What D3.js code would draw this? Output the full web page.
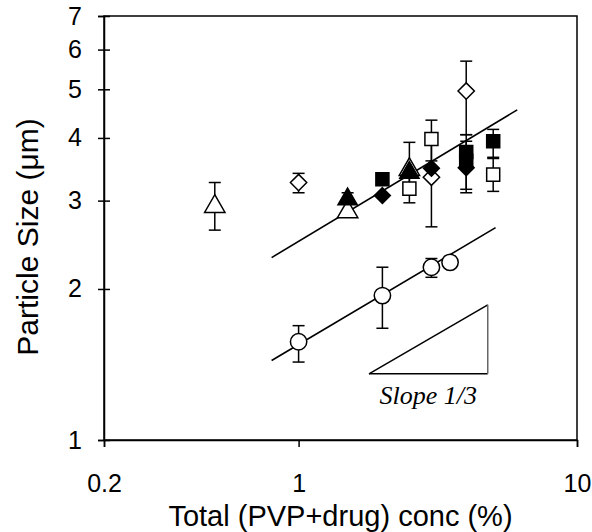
<!DOCTYPE html>
<html>
<head>
<meta charset="utf-8">
<script src="https://cdn.jsdelivr.net/npm/d3@7"></script>
<style>
  body { margin: 0; background: #fff; }
  text { font-family: Arial, "Liberation Sans", sans-serif; }
</style>
</head>
<body>
<div id="chart"></div>
<script>
// values (log-log plot)
const xTicks = [0.2, 1, 10];
const yTicks = [1, 2, 3, 4, 5, 6, 7];

// each point: [x, y, errLow, errHigh]
const openTriangles = [[0.5, 2.92, 2.62, 3.26], [1.5, 2.85, null, null], [2.5, 3.46, 3.2, 3.92]];
const filledTriangles = [[1.5, 3.02, 2.95, 3.11], [2.5, 3.41, null, null]];
const filledSquares = [[2, 3.31, null, null], [4, 3.75, 3.16, 4.06], [4, 3.6, 3.11, 3.94], [5, 3.94, 3.66, 4.16]];
const openSquares = [[2.5, 3.17, 2.97, 3.37], [3, 3.98, 3.6, 4.34], [5, 3.38, 3.13, 3.64]];
const filledDiamonds = [[2, 3.07, null, null], [3, 3.48, null, null], [4, 3.49, null, null]];
const openDiamonds = [[1, 3.26, 3.11, 3.40], [3, 3.34, 2.66, 4.0], [4, 4.96, 4.06, 5.69]];
const openCircles = [[1, 1.57, 1.43, 1.69], [2, 1.94, 1.67, 2.21], [3, 2.21, 2.11, 2.30], [3.5, 2.26, null, null]];

// fitted lines (slope 1/3 on log-log), endpoints
const upperFit = [[0.8, 2.31], [6.1, 4.55]];
const lowerFit = [[0.8, 1.44], [5.1, 2.65]];

// slope 1/3 reference triangle
const slopeTri = [[1.79, 1.355], [4.78, 1.355], [4.78, 1.86]];
const slopeLabel = "Slope 1/3";

const width = 592;
const height = 532;
const margin = {top: 16, right: 15, bottom: 92, left: 104};

const svg = d3.select("#chart")
    .append("svg")
    .attr("width", width)
    .attr("height", height);

const x = d3.scaleLog()
    .domain([0.2, 10])
    .range([margin.left, width - margin.right]);

const y = d3.scaleLog()
    .domain([1, 7])
    .range([height - margin.bottom, margin.top]);

// frame
svg.append("rect")
    .attr("x", x(0.2))
    .attr("y", y(7))
    .attr("width", x(10) - x(0.2))
    .attr("height", y(1) - y(7))
    .attr("fill", "none")
    .attr("stroke", "#000")
    .attr("stroke-width", 1.5);

// x axis
const xAxis = svg.append("g")
    .attr("transform", `translate(0,${y(1)})`)
    .call(d3.axisBottom(x).tickValues(xTicks).tickSize(7).tickFormat(d3.format("")));
xAxis.select(".domain").attr("stroke-width", 1.5);
xAxis.selectAll(".tick line").attr("stroke-width", 1.5);
xAxis.selectAll(".tick text")
    .attr("y", 34)
    .style("font-size", "25px")
    .style("font-family", "Arial, 'Liberation Sans', sans-serif");

// y axis with crossing ticks
const yAxis = svg.append("g")
    .attr("transform", `translate(${x(0.2)},0)`)
    .call(d3.axisLeft(y).tickValues(yTicks).tickSize(6).tickFormat(d3.format("")));
yAxis.select(".domain").attr("stroke-width", 1.5);
yAxis.selectAll(".tick line").attr("x1", 6).attr("x2", -6).attr("stroke-width", 1.5);
yAxis.selectAll(".tick text")
    .attr("x", -22)
    .style("font-size", "25px")
    .style("font-family", "Arial, 'Liberation Sans', sans-serif");

// axis titles
svg.append("text")
    .attr("x", (x(0.2) + x(10)) / 2)
    .attr("y", 526)
    .attr("text-anchor", "middle")
    .style("font-size", "29px")
    .text("Total (PVP+drug) conc (%)");

svg.append("text")
    .attr("transform", `translate(38,237) rotate(-90)`)
    .attr("text-anchor", "middle")
    .style("font-size", "30px")
    .text("Particle Size (\u03bcm)");

// fit lines
const line = d3.line().x(d => x(d[0])).y(d => y(d[1]));
[upperFit, lowerFit].forEach(f => {
    svg.append("path")
        .attr("d", line(f))
        .attr("fill", "none")
        .attr("stroke", "#000")
        .attr("stroke-width", 1.6);
});

// slope triangle
svg.append("path")
    .attr("d", line([slopeTri[0], slopeTri[1]]))
    .attr("stroke", "#000").attr("stroke-width", 1.5).attr("fill", "none");
svg.append("path")
    .attr("d", line([slopeTri[0], slopeTri[2]]))
    .attr("stroke", "#000").attr("stroke-width", 1.5).attr("fill", "none");
svg.append("path")
    .attr("d", line([slopeTri[1], slopeTri[2]]))
    .attr("stroke", "#666").attr("stroke-width", 1.5).attr("fill", "none");

svg.append("text")
    .attr("x", (x(slopeTri[0][0]) + x(slopeTri[1][0])) / 2)
    .attr("y", y(slopeTri[0][1]) + 30)
    .attr("text-anchor", "middle")
    .style("font-family", "'Liberation Serif', 'DejaVu Serif', serif")
    .style("font-style", "italic")
    .style("font-size", "26px")
    .text(slopeLabel);

// error bars
function drawErrors(data) {
    const g = svg.append("g").attr("stroke", "#000").attr("stroke-width", 1.5);
    data.filter(d => d[2] != null).forEach(d => {
        g.append("line")
            .attr("x1", x(d[0])).attr("x2", x(d[0]))
            .attr("y1", y(d[2])).attr("y2", y(d[3]));
        [d[2], d[3]].forEach(v => {
            g.append("line")
                .attr("x1", x(d[0]) - 6).attr("x2", x(d[0]) + 6)
                .attr("y1", y(v)).attr("y2", y(v));
        });
    });
}

const allSeries = [
    {data: openCircles, shape: d3.symbolCircle, size: 210, fill: "#fff"},
    {data: openDiamonds, shape: d3.symbolDiamond2, size: 170, fill: "#fff"},
    {data: openSquares, shape: d3.symbolSquare, size: 170, fill: "#fff"},
    {data: openTriangles, shape: d3.symbolTriangle, size: 180, fill: "#fff"},
    {data: filledTriangles, shape: d3.symbolTriangle, size: 160, fill: "#000"},
    {data: filledSquares, shape: d3.symbolSquare, size: 170, fill: "#000"},
    {data: filledDiamonds, shape: d3.symbolDiamond2, size: 160, fill: "#000"}
];

allSeries.forEach(s => drawErrors(s.data));

allSeries.forEach(s => {
    svg.append("g").selectAll("path")
        .data(s.data)
        .enter().append("path")
        .attr("transform", d => `translate(${x(d[0])},${y(d[1])})`)
        .attr("d", d3.symbol().type(s.shape).size(s.size))
        .attr("fill", s.fill)
        .attr("stroke", "#000")
        .attr("stroke-width", 1.5);
});
</script>
</body>
</html>
